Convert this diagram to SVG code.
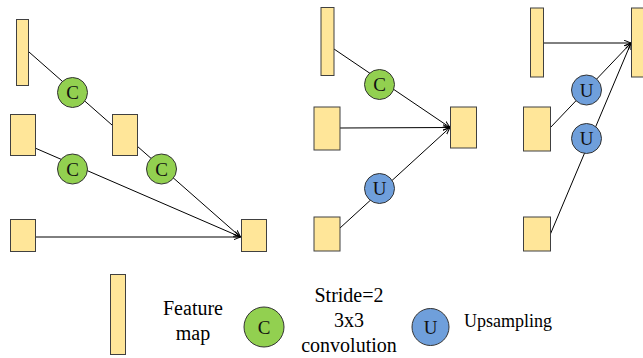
<svg xmlns="http://www.w3.org/2000/svg" width="643" height="358" viewBox="0 0 643 358">
<defs>
<style>
.fm{fill:#FFE699;stroke:#404040;stroke-width:1}
.cc{fill:#92D050;stroke:#333;stroke-width:1}
.uc{fill:#6F9FDB;stroke:#333;stroke-width:1}
.ln{stroke:#000;stroke-width:1;fill:none}
text{font-family:'Liberation Serif','DejaVu Serif',serif}
.lt{font-size:19px;fill:#111;text-anchor:middle}
.tx{font-size:20px;fill:#000;text-anchor:middle}
.ts{font-size:18px;fill:#000}
</style>
<marker id="ah" viewBox="0 0 10 10" refX="10" refY="5" markerWidth="7" markerHeight="7" orient="auto" markerUnits="userSpaceOnUse">
<path d="M0,1 L10,5 L0,9" fill="none" stroke="#000" stroke-width="1.4"/>
</marker>
</defs>
<rect width="643" height="358" fill="#fff"/>
<g id="connectors">
<line class="ln" x1="29" y1="52" x2="112" y2="125"/>
<line class="ln" x1="35" y1="148" x2="240.5" y2="237" marker-end="url(#ah)"/>
<line class="ln" x1="137" y1="146" x2="240.5" y2="237" marker-end="url(#ah)"/>
<line class="ln" x1="35" y1="237" x2="240.5" y2="237" marker-end="url(#ah)"/>
<line class="ln" x1="334" y1="49" x2="450" y2="127.5" marker-end="url(#ah)"/>
<line class="ln" x1="340" y1="128" x2="450" y2="127.5" marker-end="url(#ah)"/>
<line class="ln" x1="340" y1="228" x2="450" y2="127.5" marker-end="url(#ah)"/>
<line class="ln" x1="543" y1="43" x2="631" y2="43" marker-end="url(#ah)"/>
<line class="ln" x1="550" y1="128" x2="631" y2="43" marker-end="url(#ah)"/>
<line class="ln" x1="550" y1="235" x2="631" y2="43" marker-end="url(#ah)"/>
</g>
<g id="p1-fm1"><rect class="fm" x="16.5" y="19.5" width="12" height="66"/></g>
<g id="p1-fm2"><rect class="fm" x="10.5" y="114.5" width="25" height="41"/></g>
<g id="p1-fm3"><rect class="fm" x="112.5" y="114.5" width="25" height="41"/></g>
<g id="p1-fm4"><rect class="fm" x="10.5" y="219.5" width="25" height="32"/></g>
<g id="p1-fm5"><rect class="fm" x="241.5" y="219.5" width="25" height="32"/></g>
<g id="p1-c1"><circle class="cc" cx="72.5" cy="92.5" r="15"/><text class="lt" x="72.5" y="99">C</text></g>
<g id="p1-c2"><circle class="cc" cx="72.5" cy="169" r="15"/><text class="lt" x="72.5" y="175.5">C</text></g>
<g id="p1-c3"><circle class="cc" cx="161.5" cy="169" r="15"/><text class="lt" x="161.5" y="175.5">C</text></g>
<g id="p2-fm1"><rect class="fm" x="321" y="7.5" width="13" height="68"/></g>
<g id="p2-fm2"><rect class="fm" x="314" y="107" width="26" height="43"/></g>
<g id="p2-fm3"><rect class="fm" x="450.5" y="107" width="26" height="41"/></g>
<g id="p2-fm4"><rect class="fm" x="314" y="217" width="26" height="34"/></g>
<g id="p2-c"><circle class="cc" cx="379.5" cy="84.5" r="15"/><text class="lt" x="379.5" y="91">C</text></g>
<g id="p2-u"><circle class="uc" cx="379.5" cy="188.5" r="15"/><text class="lt" x="379.5" y="195">U</text></g>
<g id="p3-fm1"><rect class="fm" x="530.5" y="8" width="13" height="69"/></g>
<g id="p3-fm2"><rect class="fm" x="631.5" y="8" width="14" height="69"/></g>
<g id="p3-fm3"><rect class="fm" x="523.5" y="107" width="27" height="44"/></g>
<g id="p3-fm4"><rect class="fm" x="523.5" y="217" width="27" height="34"/></g>
<g id="p3-u1"><circle class="uc" cx="586.5" cy="90" r="15"/><text class="lt" x="586.5" y="96.5">U</text></g>
<g id="p3-u2"><circle class="uc" cx="586.5" cy="138.5" r="15"/><text class="lt" x="586.5" y="145">U</text></g>
<g id="legend-fm"><rect class="fm" x="110.5" y="274.5" width="15" height="80"/>
<text class="tx" x="193" y="315">Feature</text><text class="tx" x="193" y="340">map</text></g>
<g id="legend-c"><circle class="cc" cx="264" cy="327" r="20"/><text class="lt" x="264" y="333.5">C</text>
<text class="tx" x="349" y="301.5">Stride=2</text><text class="tx" x="349" y="326.5">3x3</text><text class="tx" x="349" y="351.5">convolution</text></g>
<g id="legend-u"><circle class="uc" cx="430.5" cy="327" r="18.5"/><text class="lt" x="430.5" y="333.5">U</text>
<text class="ts" x="464" y="327">Upsampling</text></g>
</svg>
